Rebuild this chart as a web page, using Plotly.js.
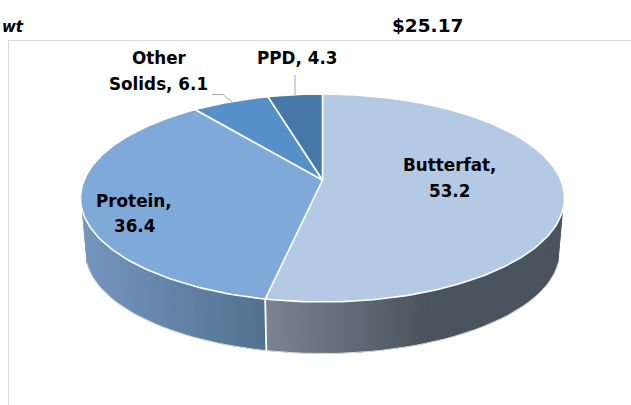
<!DOCTYPE html>
<html>
<head>
<meta charset="utf-8">
<script src="https://cdn.plot.ly/plotly-3.0.1.min.js"></script>
<style>html,body{margin:0;padding:0;background:#fff;overflow:hidden}#chart{width:631px;height:405px}</style>
</head>
<body>
<div id="chart"></div>
<script>
// Data
var categories = ['Butterfat', 'Protein', 'Other Solids', 'PPD'];
var shares = [53.2, 36.4, 6.1, 4.3];
var totalLabel = '$25.17';
var unitLabel = 'wt';

// Styles
var topColors = ['#b4c9e4', '#7fa9d8', '#5590c9', '#4678a8'];
var sideStops = [
  {seam: [122, 132, 146], far: [74, 84, 94], flatAt: 0.55},
  {seam: [82, 113, 143], far: [116, 150, 190], flatAt: 1}
];

// Projection of the tilted disc
var cx = 322.5, cyTop = 180, A = 238.4, B = 100.9, k = 0.173;
var cyBottom = 234, shrink = 0.98;
function rim(deg, bottom) {
  var t = deg * Math.PI / 180, u = Math.sin(t), v = -Math.cos(t), d = 1 - k * v;
  var s = bottom ? shrink : 1;
  return [cx + s * A * u / d, (bottom ? cyBottom : cyTop) + s * B * v / d];
}
function rgb(c) { return 'rgb(' + c.map(Math.round).join(',') + ')'; }

var traces = [];
var total = shares.reduce(function (a, b) { return a + b; }, 0);
var edges = [0];
shares.forEach(function (s, i) { edges.push(edges[i] + s / total * 360); });

// Side wall: only the front part is visible. Painted in order, each band
// overlapping the next so no seams show.
var sideStart = 106, sideEnd = 254, step = 0.75;
var seamX = rim(edges[1], false)[0];
for (var a = sideStart; a < sideEnd; a += step) {
  var b = Math.min(a + step * 2.5, sideEnd), m = a + step / 2;
  var stop = sideStops[m < edges[1] ? 0 : 1];
  var farX = rim(m < edges[1] ? sideStart : sideEnd, false)[0];
  var f = Math.min(1, Math.max(0, (rim(m, false)[0] - seamX) / (farX - seamX) / stop.flatAt));
  var col = rgb(stop.seam.map(function (v, j) { return v + (stop.far[j] - v) * f; }));
  var p1 = rim(a, false), p2 = rim(b, false), p3 = rim(b, true), p4 = rim(a, true);
  traces.push({
    type: 'scatter', mode: 'none', x: [p1[0], p2[0], p3[0], p4[0], p1[0]], y: [p1[1], p2[1], p3[1], p4[1], p1[1]],
    fill: 'toself', fillcolor: col, hoverinfo: 'skip', showlegend: false
  });
}

// Outer outline of the side wall
var outX = [], outY = [];
for (a = sideStart; a <= sideEnd; a += 2) { var q = rim(a, true); outX.push(q[0]); outY.push(q[1]); }
traces.push({type: 'scatter', mode: 'lines', x: outX, y: outY, line: {color: '#dedede', width: 1}, hoverinfo: 'skip', showlegend: false});

// Seam between the two visible side faces
var s1 = rim(edges[1], false), s2 = rim(edges[1], true);
traces.push({type: 'scatter', mode: 'lines', x: [s1[0], s2[0]], y: [s1[1], s2[1]], line: {color: '#ffffff', width: 1.8}, hoverinfo: 'skip', showlegend: false});

// Top faces
shares.forEach(function (s, i) {
  var xs = [cx], ys = [cyTop];
  for (var d = edges[i]; d < edges[i + 1]; d += 1) { var p = rim(d, false); xs.push(p[0]); ys.push(p[1]); }
  var e = rim(edges[i + 1], false); xs.push(e[0], cx); ys.push(e[1], cyTop);
  traces.push({
    type: 'scatter', mode: 'lines', x: xs, y: ys, fill: 'toself', fillcolor: topColors[i],
    line: {color: '#ffffff', width: 1.6}, name: categories[i], text: categories[i] + ', ' + s, hoverinfo: 'text', showlegend: false
  });
});

function note(text, x, y, opt) {
  var o = {text: text, x: x, y: y, xref: 'x', yref: 'y', showarrow: false, xanchor: 'center', yanchor: 'middle',
    font: {family: '"DejaVu Sans", sans-serif', size: 16.8, color: '#000', weight: 700}};
  for (var key in (opt || {})) o[key] = opt[key];
  return o;
}
var titleFont = {family: '"DejaVu Sans", sans-serif', size: 18.5, color: '#000', weight: 700};

var annotations = [
  note(unitLabel, 0, 27, {xanchor: 'left', font: {family: '"DejaVu Sans", sans-serif', size: 15, color: '#000', weight: 700, style: 'italic'}}),
  note(totalLabel, 427.5, 25.5, {font: titleFont}),
  note(categories[0] + ',', 449, 165),
  note(String(shares[0]), 449, 191),
  note(categories[1] + ',', 134, 201),
  note(String(shares[1]), 134, 226),
  note('Other', 159, 58),
  note('Solids, ' + shares[2], 158.5, 84),
  note('PPD, ' + shares[3], 297, 58)
];

var frame = {color: '#d9d9d9', width: 1};
var leader = {color: '#a6a6a6', width: 1};
var layout = {
  width: 631, height: 405, margin: {l: 0, r: 0, t: 0, b: 0},
  paper_bgcolor: '#fff', plot_bgcolor: '#fff', showlegend: false,
  xaxis: {range: [0, 631], visible: false, fixedrange: true},
  yaxis: {range: [405, 0], visible: false, fixedrange: true},
  annotations: annotations,
  shapes: [
    {type: 'line', xref: 'x', yref: 'y', x0: 8, y0: 40.5, x1: 631, y1: 40.5, line: frame, layer: 'below'},
    {type: 'line', xref: 'x', yref: 'y', x0: 8.5, y0: 40, x1: 8.5, y1: 405, line: frame, layer: 'below'},
    {type: 'path', xref: 'x', yref: 'y', path: 'M 212 94.5 L 223 94.5 L 232 102', line: leader},
    {type: 'line', xref: 'x', yref: 'y', x0: 295, y0: 75, x1: 295, y1: 95, line: leader}
  ]
};
Plotly.newPlot('chart', traces, layout, {displayModeBar: false, staticPlot: true});
</script>
</body>
</html>
